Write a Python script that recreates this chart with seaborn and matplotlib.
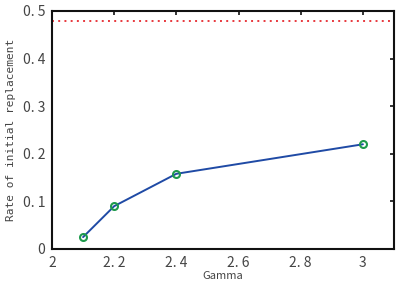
import matplotlib
matplotlib.use("Agg")
import matplotlib.pyplot as plt
import seaborn as sns
import pandas as pd

gamma = [2.1, 2.2, 2.4, 3.0]
rate = [0.025, 0.090, 0.158, 0.220]
ref_level = 0.48
xticks = [2, 2.2, 2.4, 2.6, 2.8, 3]
xtick_labels = ["2", "2. 2", "2. 4", "2. 6", "2. 8", "3"]
yticks = [0, 0.1, 0.2, 0.3, 0.4, 0.5]
ytick_labels = ["0", "0. 1", "0. 2", "0. 3", "0. 4", "0. 5"]

sns.set_theme(style="white")
plt.rcParams['font.family'] = ['Noto Sans CJK JP', 'DejaVu Sans']

df = pd.DataFrame({"Gamma": gamma, "Rate": rate})

fig = plt.figure(figsize=(4.15, 2.9), dpi=100)
ax = fig.add_axes([52/415, 1-249/290, (394-52)/415, (249-11)/290])

sns.lineplot(data=df, x="Gamma", y="Rate", ax=ax, color="#1f4aa5", linewidth=1.4,
             marker="o", markersize=5, markerfacecolor="none",
             markeredgecolor="#1e9a4c", markeredgewidth=1.5)
ax.axhline(ref_level, color="#e8383d", linestyle=(0, (1, 2.2)), linewidth=1.4)

ax.set_xlim(2, 3.1)
ax.set_ylim(0, 0.5)
ax.set_xticks(xticks)
ax.set_xticklabels(xtick_labels)
ax.set_yticks(yticks)
ax.set_yticklabels(ytick_labels)
ax.tick_params(direction="in", length=3, width=1.2, top=True, right=True,
               labelsize=10, labelcolor="#444444", color="#111111", pad=5)
ax.tick_params(axis="x", labeltop=False)
ax.tick_params(axis="y", labelright=False)
for s in ax.spines.values():
    s.set_color("#111111")
    s.set_linewidth(1.5)
    s.set_visible(True)
ax.set_xlabel("Gamma", fontsize=8, color="#444444", labelpad=1)
ax.set_ylabel("Rate of initial replacement", fontsize=8, color="#444444",
              family=['DejaVu Sans Mono'], labelpad=5)

fig.savefig("out.png", dpi=100)
